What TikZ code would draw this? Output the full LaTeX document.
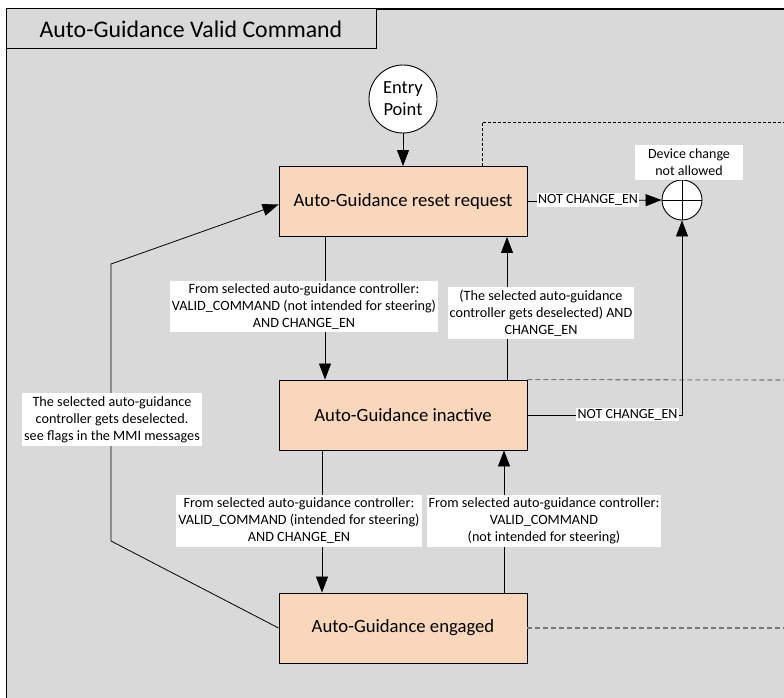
\documentclass[tikz,border=0pt]{standalone}
\usepackage{fontspec}
\setmainfont{Carlito}
\usetikzlibrary{arrows.meta}
\definecolor{bg}{HTML}{D9D9D9}
\definecolor{peach}{HTML}{F9D7BA}
\definecolor{dgray}{HTML}{777777}
\tikzset{
  statebox/.style={draw=black, fill=peach, line width=0.9pt, minimum width=248pt, minimum height=70pt, font=\fontsize{18.7}{22}\selectfont, inner sep=0pt},
  lbl/.style={fill=white, align=center, inner xsep=2pt, inner ysep=3pt, font=\fontsize{14.2}{17}\selectfont},
  arr/.style={draw=black, line width=0.8pt, -{Triangle[length=16pt,width=12pt]}},
  plain/.style={draw=black, line width=0.8pt},
  dashA/.style={draw=black, line width=0.8pt, dash pattern=on 3pt off 2pt},
  dashB/.style={draw=dgray, line width=1.1pt, dash pattern=on 5pt off 3pt},
}
\begin{document}
\begin{tikzpicture}[x=1pt,y=-1pt]
\useasboundingbox (0,0) rectangle (784,698);
\fill[white] (0,0) rectangle (784,698);
% frame
\draw[fill=bg, line width=1.2pt] (6.5,9) rectangle (800,720);
\draw[fill=bg, line width=1pt] (6.5,9) rectangle (376,49);
\node[font=\fontsize{23.8}{26}\selectfont] (title) at (191,29) {Auto-Guidance Valid Command};
% states
\node[statebox] (reset) at (403,201.5) {Auto-Guidance reset request};
\node[statebox] (inactive) at (403,415) {Auto-Guidance inactive};
\node[statebox] (engaged) at (403,628) {Auto-Guidance engaged};
\node[circle, draw=black, fill=white, line width=0.9pt, minimum size=68pt, inner sep=0pt, align=center, font=\fontsize{18.5}{22}\selectfont] (entry) at (403,99) {Entry\\Point};
\node[circle, draw=black, fill=white, line width=0.9pt, minimum size=40pt, inner sep=0pt] (dc) at (682,200) {};
\draw[plain] (dc.north) -- (dc.south);
\draw[plain] (dc.west) -- (dc.east);
\node[lbl, font=\fontsize{14}{17}\selectfont, inner xsep=13pt, inner ysep=4pt] (dclbl) at (689,162.5) {Device change\\not allowed};
% dashed
\coordinate (d1) at (482,122);
\coordinate (d1e) at (784,122);
\coordinate (d2e) at (784,380);
\coordinate (d3e) at (784,628);
\draw[dashA] ([xshift=79pt]reset.north) -- (d1) -- (d1e);
\draw[dashB] (inactive.north east) -- (d2e);
\draw[dashB] (engaged.east) -- (d3e);
% connectors
\draw[arr] (entry) -- (reset);
\draw[arr] ([xshift=-78pt]reset.south) -- ([xshift=-78pt]inactive.north);
\draw[arr] ([xshift=104pt]inactive.north) -- ([xshift=104pt]reset.south);
\draw[arr] ([xshift=-81pt]inactive.south) -- ([xshift=-81pt]engaged.north);
\draw[arr] ([xshift=101pt]engaged.north) -- ([xshift=101pt]inactive.south);
\draw[arr] (reset.east) -- (dc.west);
\coordinate (c1) at (682,415);
\draw[arr] (inactive.east) -- (c1) -- (dc.south);
\coordinate (b1) at (111,541);
\coordinate (b2) at (111,264);
\draw[arr] (engaged.west) -- (b1) -- (b2) -- ([yshift=-3pt]reset.west);
% labels
\node[lbl] (l1) at (304,306.5) {From selected auto-guidance controller:\\VALID\_COMMAND (not intended for steering)\\AND CHANGE\_EN};
\node[lbl] (l2) at (541,313) {(The selected auto-guidance\\controller gets deselected) AND\\CHANGE\_EN};
\node[lbl] (l3) at (299,521) {From selected auto-guidance controller:\\VALID\_COMMAND (intended for steering)\\AND CHANGE\_EN};
\node[lbl] (l4) at (544,521) {From selected auto-guidance controller:\\VALID\_COMMAND\\(not intended for steering)};
\node[lbl] (l5) at (112,419.5) {The selected auto-guidance\\controller gets deselected.\\see flags in the MMI messages};
\node[lbl, font=\fontsize{14}{16}\selectfont, inner sep=1.5pt] (n1) at (588,200) {NOT CHANGE\_EN};
\node[lbl, font=\fontsize{14}{16}\selectfont, inner sep=1.5pt] (n2) at (627.5,414.5) {NOT CHANGE\_EN};
\end{tikzpicture}
\end{document}
